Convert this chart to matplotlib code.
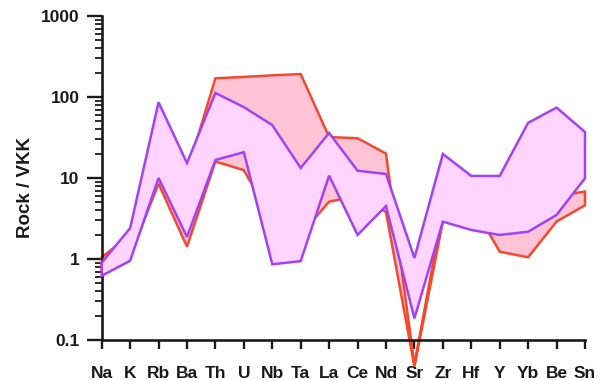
import matplotlib
matplotlib.use("Agg")
import matplotlib.pyplot as plt
from matplotlib.ticker import LogLocator, NullFormatter, FixedLocator

plt.rcParams['font.family'] = ['Liberation Sans', 'DejaVu Sans']
plt.rcParams['font.weight'] = 'bold'

elements = ["Na", "K", "Rb", "Ba", "Th", "U", "Nb", "Ta", "La", "Ce", "Nd",
            "Sr", "Zr", "Hf", "Y", "Yb", "Be", "Sn"]

# range envelope of the first rock group (red outline)
red_upper = [1.05, 2.0, 60, 11.7, 170, 177, 185, 192, 32, 31, 20,
             0.05, 4.0, 7.0, 7.0, 7.0, 6.0, 6.8]
red_lower = [0.75, 1.1, 8.5, 1.42, 16, 12.5, 3.0, 2.0, 5.1, 6.0, 3.8,
             0.047, 2.9, 5.0, 1.23, 1.05, 2.9, 4.6]

# range envelope of the second rock group (purple outline)
purple_upper = [0.9, 2.4, 86, 15.3, 112, 75, 45, 13.3, 36, 12.3, 11.2,
                1.03, 19.8, 10.6, 10.6, 48, 74, 37]
purple_lower = [0.62, 0.95, 10, 1.87, 16.7, 20.8, 0.86, 0.94, 10.7, 1.98, 4.5,
                0.185, 2.89, 2.28, 1.98, 2.17, 3.5, 9.9]

y_ticks = [0.1, 1, 10, 100, 1000]
y_tick_labels = ["0.1", "1", "10", "100", "1000"]

fig = plt.figure(figsize=(6.1, 3.8), dpi=100)
ax = fig.add_axes([0.1667, 0.1053, 0.7923, 0.8526])

x = list(range(len(elements)))


def envelope(ax, upper, lower, face, edge, z):
    xs = x + x[::-1]
    ys = list(upper) + list(lower)[::-1]
    ax.fill(xs, ys, facecolor=face, edgecolor=edge, linewidth=1.8,
            joinstyle='miter', zorder=z, clip_on=False)


envelope(ax, red_upper, red_lower, "#ffc3d6", "#f24a2c", 2)
envelope(ax, purple_upper, purple_lower, "#ffd4ff", "#a342f2", 3)

ax.set_yscale('log')
ax.set_ylim(0.1, 1000)
ax.set_xlim(0, len(elements) - 1)

ax.yaxis.set_major_locator(FixedLocator(y_ticks))
ax.set_yticklabels(y_tick_labels)
ax.yaxis.set_minor_locator(LogLocator(base=10, subs=range(2, 10)))
ax.yaxis.set_minor_formatter(NullFormatter())

ax.set_xticks(x)
ax.set_xticklabels(elements)

for side in ("top", "right"):
    ax.spines[side].set_visible(False)
for side in ("left", "bottom"):
    ax.spines[side].set_linewidth(1.9)
    ax.spines[side].set_color("#1a1a1a")

ax.tick_params(axis='y', which='major', direction='out', length=11, width=1.7,
               pad=5, labelsize=12.5, color="#1a1a1a")
ax.tick_params(axis='y', which='minor', direction='out', length=5, width=1.3,
               color="#1a1a1a")
ax.tick_params(axis='x', which='major', direction='out', length=6.5, width=1.7,
               pad=12, labelsize=12.5, color="#1a1a1a")

for lab in ax.get_xticklabels() + ax.get_yticklabels():
    lab.set_fontweight('bold')
    lab.set_color("#1a1a1a")

ax.set_ylabel("Rock / VKK", fontsize=13.5, fontweight='bold', color="#1a1a1a")
ax.yaxis.set_label_coords(-0.14, 0.47)

fig.savefig("out.png", dpi=100)
